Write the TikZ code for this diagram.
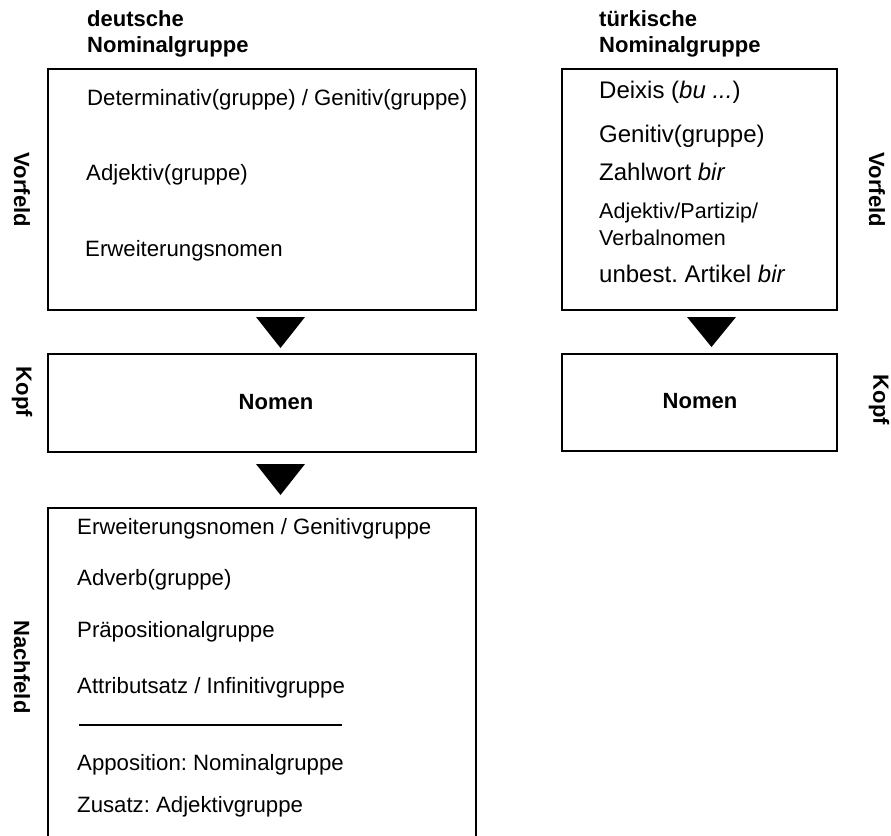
\documentclass[tikz,border=0pt]{standalone}
\usepackage{fontspec}
\setmainfont{Liberation Sans}
\frenchspacing
\begin{document}
\begin{tikzpicture}[x=1pt,y=-1pt,
  frame/.style={draw=black, line width=2pt, minimum width=#1, inner sep=0pt, outer sep=0pt},
  item/.style={anchor=base west, inner sep=0pt, font=\fontsize{22.2}{26}\selectfont},
  titem/.style={anchor=base west, inner sep=0pt, font=\fontsize{24}{28}\selectfont},
  sitem/.style={anchor=base west, inner sep=0pt, font=\fontsize{21.5}{25}\selectfont},
  head/.style={anchor=base west, inner sep=0pt, font=\fontsize{22}{25}\selectfont\bfseries},
  headword/.style={anchor=base, inner sep=0pt, font=\fontsize{22}{25}\selectfont\bfseries},
  side/.style={rotate=-90, anchor=center, inner sep=0pt, font=\fontsize{22}{25}\selectfont\bfseries},
  pointer/.style={fill=black, draw=none}
]
\useasboundingbox (0,0) rectangle (891,835);
\clip (0,0) rectangle (891,835);

% ---------- German noun phrase ----------
\node[head] (dhead1) at (87,27) {deutsche};
\node[head] (dhead2) at (87,52) {Nominalgruppe};

\node[frame=428pt, minimum height=241pt] (dvf) at (262,189.5) {};
\node[item] (d1) at (87,105) {Determinativ(gruppe) / Genitiv(gruppe)};
\node[item] (d2) at (86,180) {Adjektiv(gruppe)};
\node[item] (d3) at (85,256) {Erweiterungsnomen};

\fill[pointer] (256,317) -- (305,317) -- (280.5,348) -- cycle;

\node[frame=428pt, minimum height=98pt] (dkopf) at (262,403) {};
\node[headword] (dnomen) at (276,409) {Nomen};

\fill[pointer] (256,464) -- (305,464) -- (280.5,495) -- cycle;

\node[frame=428pt, minimum height=360pt] (dnf) at (262,688) {};
\node[item] (n1) at (77,534) {Erweiterungsnomen / Genitivgruppe};
\node[item] (n2) at (77,585) {Adverb(gruppe)};
\node[item] (n3) at (77,637) {Präpositionalgruppe};
\node[item] (n4) at (77,693) {Attributsatz / Infinitivgruppe};
\coordinate (sepL) at (79,725);
\coordinate (sepR) at (342,725);
\draw[line width=2pt] (sepL) -- (sepR);
\node[item] (n5) at (77,770) {Apposition: Nominalgruppe};
\node[item] (n6) at (77,812) {Zusatz: Adjektivgruppe};

\node[side] (lvf) at (22,190) {Vorfeld};
\node[side] (lkopf) at (22,392) {Kopf};
\node[side] (lnf) at (22,667) {Nachfeld};

% ---------- Turkish noun phrase ----------
\node[head] (thead1) at (599,27) {türkische};
\node[head] (thead2) at (599,52) {Nominalgruppe};

\node[frame=275pt, minimum height=241pt] (tvf) at (699.5,189.5) {};
\node[titem] (t1) at (599,98) {Deixis (\textit{bu ...})};
\node[titem] (t2) at (599,142) {Genitiv(gruppe)};
\node[titem] (t3) at (599,180) {Zahlwort \textit{bir}};
\node[sitem] (t4) at (599,218) {Adjektiv/Partizip/};
\node[sitem] (t5) at (599,245) {Verbalnomen};
\node[titem] (t6) at (599,282) {unbest. Artikel \textit{bir}};

\fill[pointer] (687,317) -- (736,317) -- (711.5,347) -- cycle;

\node[frame=275pt, minimum height=97pt] (tkopf) at (699.5,402.5) {};
\node[headword] (tnomen) at (700,408) {Nomen};

\node[side] (rvf) at (877,190) {Vorfeld};
\node[side] (rkopf) at (879,400) {Kopf};
\end{tikzpicture}
\end{document}
